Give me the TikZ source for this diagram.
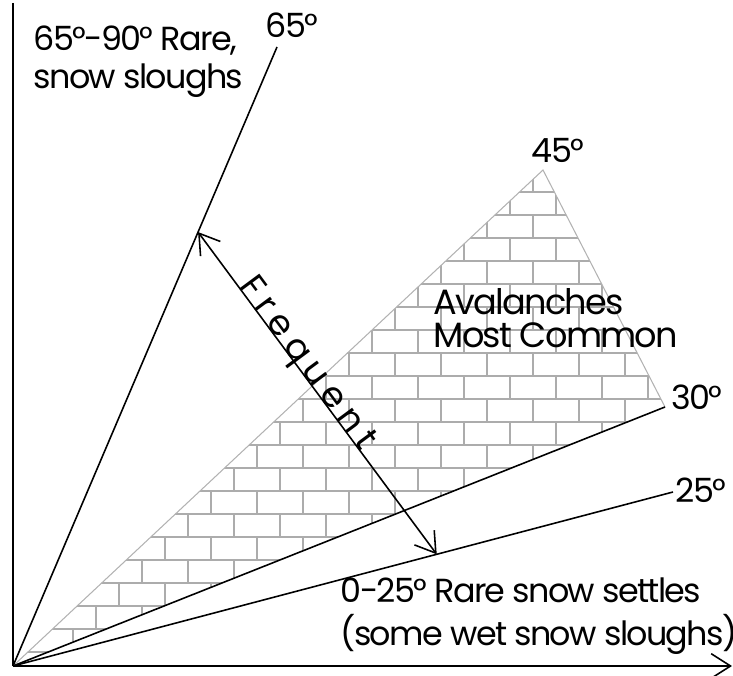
\documentclass[tikz,border=0pt]{standalone}
\usepackage{fontspec}
\setmainfont[LetterSpace=-5]{Poppins}
\newfontfamily\spacedfont[LetterSpace=20]{Poppins}
\usetikzlibrary{arrows.meta, calc}

\begin{document}
\begin{tikzpicture}[
    slope/.style={black, line width=0.45pt},
    brick/.style={gray!65, line width=0.4pt},
    edge45/.style={gray!60, line width=0.3pt},
    lbl/.style={font=\fontsize{9.5}{10.8}\selectfont, inner sep=0pt},
    barb/.style={-{Straight Barb[length=5.5pt, width=7pt]}}
]
\useasboundingbox (-0.13,-0.09) rectangle (7.20,6.66);
% Slope end points
\coordinate (O) at (0,0);
\coordinate (t65) at (2.64,6.19);
\coordinate (t45) at (5.30,4.96);
\coordinate (t30) at (6.52,2.59);
\coordinate (t25) at (6.60,1.74);
\coordinate (ytop) at (0,6.63);
\coordinate (xend) at (7.19,0);
% Brick fill of the 30-45 wedge
\begin{scope}
  \clip (O) -- (t45) -- (t30) -- cycle;
  \foreach \j in {0,...,21}{
    \draw[brick] (0,{0.14+\j*0.23}) -- (7,{0.14+\j*0.23});
    \pgfmathsetmacro{\off}{0.14+mod(\j,2)*0.23}
    \foreach \i in {0,...,15}{
      \draw[brick] ({\off+\i*0.46},{0.14+\j*0.23}) -- ++(0,0.23);
    }
  }
\end{scope}
\draw[edge45] (O) -- (t45) -- (t30);
% Axes
\draw[slope] (ytop) -- (O);
\draw[slope, barb] (O) -- (xend);
% Slope lines
\draw[slope] (O) -- (t65);
\draw[slope] (O) -- (t30);
\draw[slope] (O) -- (t25);
% Angle labels
\node[lbl] (l65) at (2.79,6.41) {65°};
\node[lbl] (l45) at (5.45,5.16) {45°};
\node[lbl] (l30) at (6.84,2.69) {30°};
\node[lbl] (l25) at (6.88,1.76) {25°};
% Frequent arrow
\coordinate (f1) at ($(O)!0.701!(t65)$);
\coordinate (f2) at ($(O)!0.642!(t25)$);
\draw[slope, {Straight Barb[length=5.5pt, width=7pt]}-{Straight Barb[length=5.5pt, width=7pt]}]
    (f1) -- node[sloped, pos=0.426, anchor=base,
                 font=\spacedfont\fontsize{10}{11}\selectfont] (freq) {Frequent} (f2);
% Text blocks
\node[lbl, align=left, anchor=north west] (rare65) at (0.20,6.41)
    {65°-90° Rare,\\snow sloughs};
\node[lbl, align=left, anchor=north west, font=\fontsize{10}{9.4}\selectfont] (common)
    at (4.20,3.78) {Avalanches\\Most Common};
\node[lbl, align=left, anchor=north west, font=\fontsize{9.5}{12.2}\selectfont] (rare25)
    at (3.27,0.89) {0-25° Rare snow settles\\(some wet snow sloughs)};
\end{tikzpicture}
\end{document}
